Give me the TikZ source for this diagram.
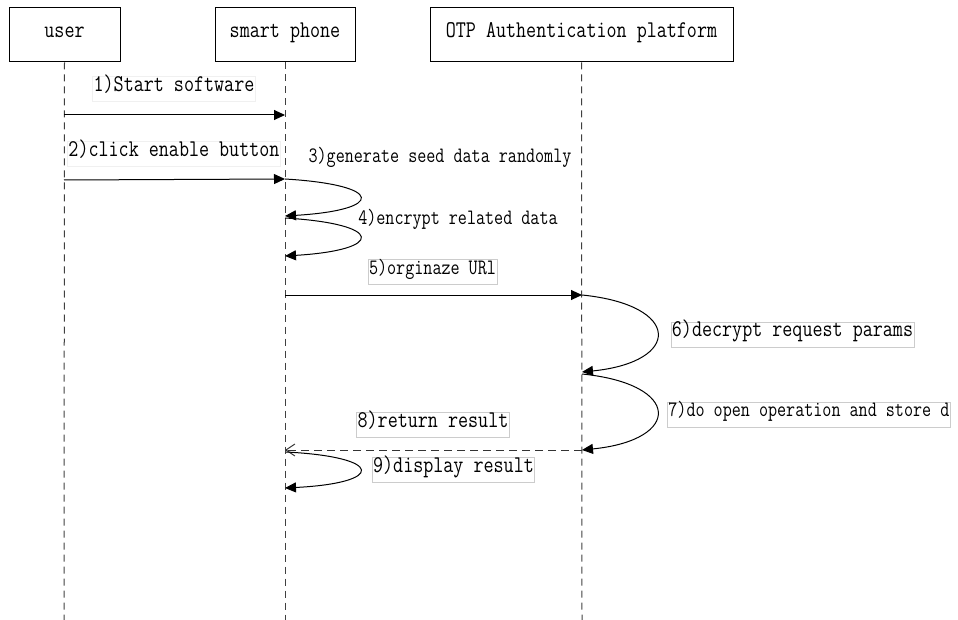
\documentclass[tikz,border=0pt]{standalone}
\usepackage{fontspec}
\newfontfamily\lblfont{Latin Modern Mono}[FakeStretch=0.813]
\newfontfamily\lblfontsm{Latin Modern Mono}[FakeStretch=0.80]
\usetikzlibrary{arrows.meta}
\newcommand{\lgf}{\lblfont\fontsize{24}{26}\selectfont}
\newcommand{\smf}{\lblfontsm\fontsize{22}{24}\selectfont}
\tikzset{
  actor/.style={draw, line width=1pt, minimum height=54pt, inner sep=0pt, font=\lgf, text height=0.6em, text depth=0.18em},
  lbl/.style={draw=gray!40, fill=white, line width=0.8pt, inner xsep=1pt, inner ysep=0pt, minimum height=25pt, font=\lgf, text height=0.6em, text depth=0.18em},
  lblfaint/.style={lbl, draw=gray!12},
  lblsmall/.style={lbl, font=\smf},
  lblbare/.style={lblsmall, draw=none, fill=none},
  life/.style={draw=black!75, line width=1pt, dash pattern=on 7pt off 5pt},
  msg/.style={line width=1pt, -{Triangle[length=11pt,width=10pt]}},
  retmsg/.style={line width=1pt, dash pattern=on 8pt off 5pt, draw=black!80, -{Straight Barb[length=9pt,width=12pt]}},
}
\begin{document}
\begin{tikzpicture}[x=1pt,y=-1pt]
\useasboundingbox (0,0) rectangle (958,620);
% actors
\node[actor, minimum width=111pt] (user) at (64.5,35) {user};
\node[actor, minimum width=140pt] (phone) at (285,35) {smart phone};
\node[actor, minimum width=303pt] (otp) at (581.5,35) {OTP Authentication platform};
% lifeline ends
\coordinate (userend) at (64,620);
\coordinate (phoneend) at (285,620);
\coordinate (otpend) at (582,620);
\draw[life] (user.south) -- (userend);
\draw[life] (phone.south) -- (phoneend);
\draw[life] (otp.south) -- (otpend);
% message points
\coordinate (u1) at (64,115);
\coordinate (p1) at (285,115);
\coordinate (u2) at (64,180);
\coordinate (p2) at (285,179);
\coordinate (p3) at (285,216);
\coordinate (p3b) at (285,218);
\coordinate (p4) at (285,256);
\coordinate (p5) at (285,295);
\coordinate (o5) at (582,295);
\coordinate (o6) at (582,372);
\coordinate (o6b) at (582,374);
\coordinate (o7) at (582,450);
\coordinate (p8) at (285,450);
\coordinate (p8b) at (286,452);
\coordinate (p9) at (285,488);
% labels
\node[lblfaint] (l1) at (174,89) {1)Start software};
\node[lblfaint] (l2) at (174,154) {2)click enable button};
\node[lblbare] (l3) at (440,160) {3)generate seed data randomly};
\node[lblbare] (l4) at (458,222) {4)encrypt related data};
\node[lblsmall] (l5) at (432.5,272) {5)orginaze URl};
\node[lbl] (l6) at (792.5,334.5) {6)decrypt request params};
\node[lblsmall, anchor=west] (l7) at (667,414.5) {7)do open operation and store d};
\node[lbl] (l8) at (433,425) {8)return result};
\node[lbl] (l9) at (453.5,470) {9)display result};
% messages
\draw[msg] (u1) -- (p1);
\draw[msg] (u2) -- (p2);
\draw[msg] (p2) .. controls (385,185) and (385,210) .. (p3);
\draw[msg] (p3b) .. controls (385,224) and (385,250) .. (p4);
\draw[msg] (p5) -- (o5);
\draw[msg] (o5) .. controls (682,305) and (682,362) .. (o6);
\draw[msg] (o6b) .. controls (682,384) and (682,440) .. (o7);
\draw[retmsg] (o7) -- (p8);
\draw[msg] (p8b) .. controls (385,457) and (385,483) .. (p9);
\end{tikzpicture}
\end{document}
